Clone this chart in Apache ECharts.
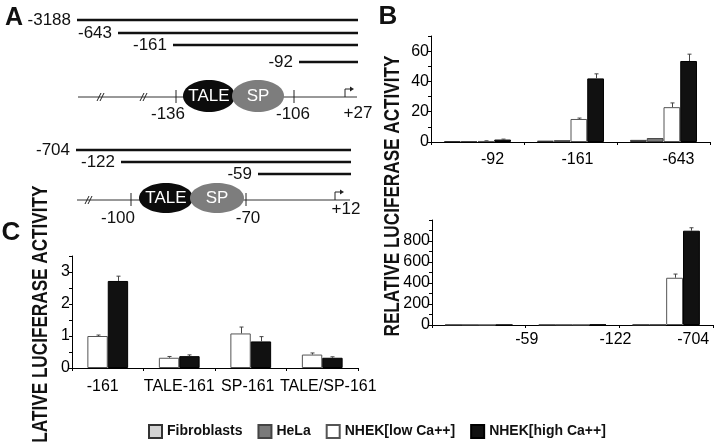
<!DOCTYPE html>
<html>
<head>
<meta charset="utf-8">
<script src="https://cdn.jsdelivr.net/npm/echarts@6/dist/echarts.min.js"></script>
<style>html,body{margin:0;padding:0;background:#fff}#c{width:720px;height:442px}</style>
</head>
<body>
<div id="c"></div>
<script>
// ---------- data ----------
const seriesNames = ['Fibroblasts', 'HeLa', 'NHEK[low Ca++]', 'NHEK[high Ca++]'];
// Panel B (top)
const catsB1 = ['-92', '-161', '-643'];
const b1Fibro = [0.6, 0.9, 1.4];
const b1HeLa = [0.6, 1.2, 2.6];
const b1Low = [0.7, 15.2, 23];
const b1High = [1.6, 42, 53.5];
const b1LowErr = [0.1, 0.6, 2.8];
const b1HighErr = [0.3, 3, 4.5];
const b1Ticks = [0, 20, 40, 60];
// Panel B (bottom)
const catsB2 = ['-59', '-122', '-704'];
const b2Fibro = [0.3, 0.5, 2];
const b2HeLa = [0.3, 0.6, 3];
const b2Low = [0.4, 1.5, 450];
const b2High = [0.8, 4, 898];
const b2LowErr = [0, 0, 35];
const b2HighErr = [0, 0, 28];
const b2Ticks = [0, 200, 400, 600, 800];
// Panel C
const catsC = ['-161', 'TALE-161', 'SP-161', 'TALE/SP-161'];
const cLow = [1.0, 0.32, 1.08, 0.42];
const cHigh = [2.72, 0.37, 0.83, 0.32];
const cLowErr = [0.03, 0.04, 0.2, 0.05];
const cHighErr = [0.15, 0.04, 0.15, 0.03];
const cTicks = [0, 1, 2, 3];
// Panel A schematic labels
const fragTop = ['-3188', '-643', '-161', '-92'];
const siteTop = ['-136', '-106', '+27'];
const fragBot = ['-704', '-122', '-59'];
const siteBot = ['-100', '-70', '+12'];
const yTitle = 'RELATIVE LUCIFERASE ACTIVITY';

// ---------- styles ----------
const FONT = '"Liberation Sans", Arial, sans-serif';
const colors = ['#d4d4d4', '#7a7a7a', '#ffffff', '#111111'];
const borders = ['#333', '#444', '#555', '#000'];

function barSeries(nameIdx, xi, yi, data, gap) {
  return {
    type: 'bar', name: seriesNames[nameIdx], xAxisIndex: xi, yAxisIndex: yi,
    data: data, barGap: '0%', barCategoryGap: gap,
    itemStyle: { color: colors[nameIdx], borderColor: borders[nameIdx], borderWidth: 1 },
    emphasis: { disabled: true }, animation: false
  };
}
function errSeries(xi, yi, idx, n, gap, vals, errs) {
  return {
    type: 'custom', name: 'err' + xi + '_' + idx, xAxisIndex: xi, yAxisIndex: yi, z: 5,
    data: vals.map((v, i) => [i, v, errs[i]]), animation: false, silent: true,
    renderItem(params, api) {
      const ci = api.value(0), v = api.value(1), e = api.value(2);
      if (!e) return;
      const p0 = api.coord([ci, v]);
      const p1 = api.coord([ci, v + e]);
      const cw = api.size([1, 0])[0];
      const usable = cw * (1 - gap);
      const bw = usable / n;
      const x = Math.round(p0[0] - usable / 2 + bw * (idx + 0.5)) + 0.5;
      return { type: 'group', children: [
        { type: 'line', shape: { x1: x, y1: p0[1], x2: x, y2: p1[1] }, style: { stroke: '#444', lineWidth: 1 } },
        { type: 'line', shape: { x1: x - 2, y1: p1[1], x2: x + 2, y2: p1[1] }, style: { stroke: '#444', lineWidth: 1 } }
      ]};
    }
  };
}
function yAx(gi, max, interval, ticks) {
  return {
    type: 'value', gridIndex: gi, min: 0, max: max, interval: interval,
    axisLine: { show: true, lineStyle: { color: '#000', width: 1 } },
    axisTick: { show: true, length: 3, lineStyle: { color: '#000' } },
    splitLine: { show: false },
    axisLabel: { color: '#000', fontFamily: FONT, fontSize: 16, margin: 2,
      formatter: v => ticks.some(t => Math.abs(t - v) < 1e-9) ? String(v) : '' }
  };
}
function xAx(gi, cats, margin, shifts) {
  const rich = {};
  shifts.forEach((s, i) => { rich['s' + i] = { fontFamily: FONT, fontSize: 16, color: '#000', padding: [0, s > 0 ? 0 : -2 * s, 0, s > 0 ? 2 * s : 0] }; });
  return {
    type: 'category', gridIndex: gi, data: cats,
    axisLine: { show: true, lineStyle: { color: '#000', width: 1 } },
    axisTick: { show: true, length: 3, lineStyle: { color: '#000' } },
    axisLabel: { interval: 0, margin: margin, color: '#000', fontFamily: FONT, fontSize: 16,
      formatter: (v, i) => '{s' + i + '|' + v + '}', rich: rich }
  };
}

// ---------- schematic (panel A) ----------
const G = [];
function txt(t, x, y, opt) {
  G.push({ type: 'text', x: x, y: y, silent: true, z: 10,
    style: Object.assign({ text: t, fill: '#111', font: '17px ' + FONT, align: 'center', verticalAlign: 'middle' }, opt || {}) });
}
function ln(x1, y1, x2, y2, w, c) {
  G.push({ type: 'line', silent: true, shape: { x1, y1, x2, y2 }, style: { stroke: c || '#111', lineWidth: w } });
}
function brk(x, y) { ln(x - 4, y + 4, x, y - 4, 1, '#222'); ln(x - 1, y + 4, x + 3, y - 4, 1, '#222'); }
function arrow(x, y, h, w) {
  ln(x, y, x, y - h, 1, '#222'); ln(x, y - h, x + w, y - h, 1, '#222');
  G.push({ type: 'polygon', silent: true, shape: { points: [[x + w + 3, y - h], [x + w - 1, y - h - 2.5], [x + w - 1, y - h + 2.5]] }, style: { fill: '#222' } });
}
function ell(label, cx, cy, rx, ry, fill, z) {
  G.push({ type: 'ellipse', silent: true, z: z, shape: { cx, cy, rx, ry }, style: { fill: fill } });
  G.push({ type: 'text', silent: true, z: z, x: cx, y: cy, style: { text: label, fill: '#fff', font: '17px ' + FONT, align: 'center', verticalAlign: 'middle' } });
}
// top construct
const topRows = [20, 33, 45, 62], topStart = [77, 118, 173, 299];
fragTop.forEach((f, i) => { txt(f, topStart[i] - 6, topRows[i], { align: 'right' }); ln(topStart[i], topRows[i], 358, topRows[i], 2.6); });
ln(78, 97, 357, 97, 1, '#333');
brk(101, 97); brk(144, 97);
ln(176, 90, 176, 103, 1, '#222'); ln(294, 90, 294, 103, 1, '#222');
ell('TALE', 209, 96, 26, 16, '#0c0c0c', 11);
ell('SP', 258, 96, 26, 16, '#7d7d7d', 12);
arrow(345, 97, 8, 6);
txt(siteTop[0], 168, 114); txt(siteTop[1], 293, 114); txt(siteTop[2], 358, 113);
// bottom construct
const botRows = [150, 162, 174], botStart = [76, 121, 258];
fragBot.forEach((f, i) => { txt(f, botStart[i] - 6, botRows[i], { align: 'right' }); ln(botStart[i], botRows[i], 351, botRows[i], 2.6); });
ln(77, 200, 350, 200, 1, '#333');
brk(89, 200);
ln(131, 193, 131, 206, 1, '#222'); ln(246, 193, 246, 206, 1, '#222');
ell('TALE', 166, 198, 27, 15, '#0c0c0c', 11);
ell('SP', 217, 198, 27, 15, '#7d7d7d', 12);
arrow(335, 200, 8, 6);
txt(siteBot[0], 118, 218); txt(siteBot[1], 248, 218); txt(siteBot[2], 346, 209);
// panel letters & y titles
txt('A', 14, 18, { font: 'bold 25px ' + FONT });
txt('B', 388, 17, { font: 'bold 26px ' + FONT });
txt('C', 11, 233, { font: 'bold 26px ' + FONT });
G.push({ type: 'text', silent: true, x: 393, y: 196, rotation: Math.PI / 2, scaleX: 0.78, scaleY: 1,
  style: { text: yTitle, fill: '#111', font: 'bold 22px ' + FONT, align: 'center', verticalAlign: 'middle' } });
G.push({ type: 'text', silent: true, x: 41, y: 326, rotation: Math.PI / 2, scaleX: 0.78, scaleY: 1,
  style: { text: yTitle, fill: '#111', font: 'bold 22px ' + FONT, align: 'center', verticalAlign: 'middle' } });

// ---------- option ----------
const gapB = 0.28, gapC = 0.43;
const option = {
  backgroundColor: '#fff',
  animation: false,
  grid: [
    { left: 431, top: 36, width: 279, height: 106 },
    { left: 432, top: 220, width: 281, height: 105 },
    { left: 72, top: 256, width: 286, height: 112 }
  ],
  xAxis: [
    xAx(0, catsB1, 10, [15, 7, 15]),
    xAx(1, catsB2, 7, [48, 43, 27]),
    xAx(2, catsC, 11, [-5, 0, -3, 6])
  ],
  yAxis: [
    yAx(0, 70, 10, b1Ticks),
    yAx(1, 1000, 100, b2Ticks),
    yAx(2, 3.5, 0.5, cTicks)
  ],
  legend: {
    data: seriesNames, left: 143, top: 419, itemWidth: 13, itemHeight: 13, itemGap: 15, icon: 'rect',
    selectedMode: false,
    textStyle: { fontFamily: FONT, fontSize: 14, fontWeight: 'bold', color: '#111' }
  },
  graphic: G,
  series: [
    barSeries(0, 0, 0, b1Fibro, '28%'), barSeries(1, 0, 0, b1HeLa, '28%'),
    barSeries(2, 0, 0, b1Low, '28%'), barSeries(3, 0, 0, b1High, '28%'),
    errSeries(0, 0, 2, 4, gapB, b1Low, b1LowErr), errSeries(0, 0, 3, 4, gapB, b1High, b1HighErr),
    barSeries(0, 1, 1, b2Fibro, '28%'), barSeries(1, 1, 1, b2HeLa, '28%'),
    barSeries(2, 1, 1, b2Low, '28%'), barSeries(3, 1, 1, b2High, '28%'),
    errSeries(1, 1, 2, 4, gapB, b2Low, b2LowErr), errSeries(1, 1, 3, 4, gapB, b2High, b2HighErr),
    barSeries(2, 2, 2, cLow, '43%'), barSeries(3, 2, 2, cHigh, '43%'),
    errSeries(2, 2, 0, 2, gapC, cLow, cLowErr), errSeries(2, 2, 1, 2, gapC, cHigh, cHighErr)
  ]
};
const chart = echarts.init(document.getElementById('c'), null, { renderer: 'canvas' });
chart.setOption(option);
</script>
</body>
</html>
